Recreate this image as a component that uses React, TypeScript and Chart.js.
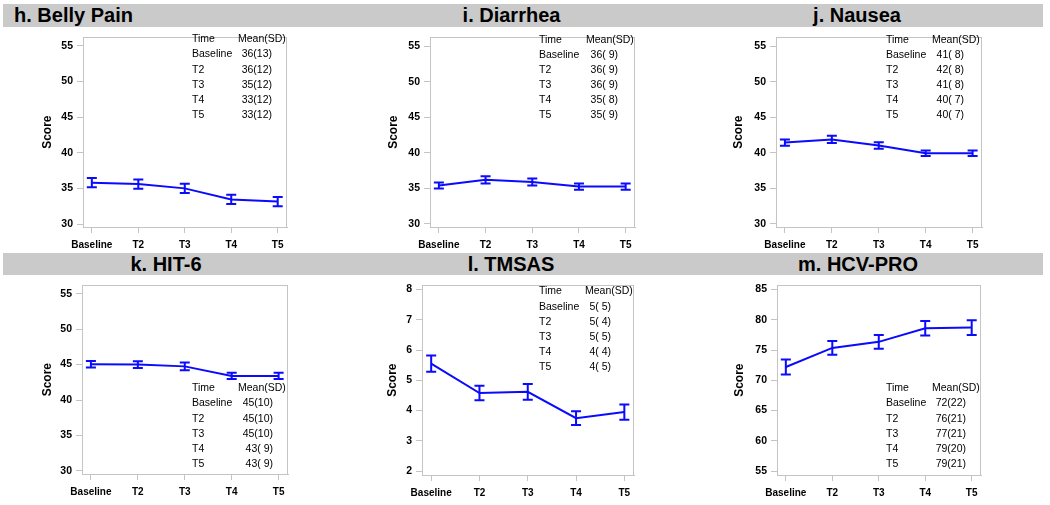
import React, { useEffect, useRef } from "react";
import { Chart, registerables } from "chart.js";

Chart.register(...registerables);

// ---------- data ----------
const categories = ["Baseline", "T2", "T3", "T4", "T5"];

const bellyMeans = [35.8, 35.6, 35.0, 33.45, 33.15];
const bellyErrs = [0.65, 0.65, 0.65, 0.65, 0.65];
const bellyTableMean = [36, 36, 35, 33, 33];
const bellyTableSD = [13, 12, 12, 12, 12];

const diarrheaMeans = [35.4, 36.2, 35.9, 35.25, 35.25];
const diarrheaErrs = [0.42, 0.5, 0.5, 0.45, 0.45];
const diarrheaTableMean = [36, 36, 36, 35, 35];
const diarrheaTableSD = [9, 9, 9, 8, 9];

const nauseaMeans = [41.45, 41.9, 41.05, 39.95, 39.95];
const nauseaErrs = [0.45, 0.5, 0.45, 0.4, 0.4];
const nauseaTableMean = [41, 42, 41, 40, 40];
const nauseaTableSD = [8, 8, 8, 7, 7];

const hitMeans = [45.05, 45.0, 44.75, 43.4, 43.4];
const hitErrs = [0.45, 0.48, 0.55, 0.45, 0.45];
const hitTableMean = [45, 45, 45, 43, 43];
const hitTableSD = [10, 10, 10, 9, 9];

const tmsasMeans = [5.55, 4.58, 4.62, 3.75, 3.95];
const tmsasErrs = [0.27, 0.24, 0.26, 0.23, 0.25];
const tmsasTableMean = [5, 5, 5, 4, 4];
const tmsasTableSD = [5, 4, 5, 4, 5];

const hcvMeans = [72.2, 75.35, 76.35, 78.6, 78.7];
const hcvErrs = [1.25, 1.15, 1.15, 1.2, 1.2];
const hcvTableMean = [72, 76, 77, 79, 79];
const hcvTableSD = [22, 21, 21, 20, 21];

const scoreTicks = [30, 35, 40, 45, 50, 55];
const tmsasTicks = [2, 3, 4, 5, 6, 7, 8];
const hcvTicks = [55, 60, 65, 70, 75, 80, 85];

const titles = ["h. Belly Pain", "i. Diarrhea", "j. Nausea", "k. HIT-6", "l. TMSAS", "m. HCV-PRO"];
const yAxisTitle = "Score";
const tableHeaders = ["Time", "Mean(SD)"];

// ---------- layout / style ----------
const FONT = '"Liberation Sans", Arial, sans-serif';
const BLUE = "#0a0aff";
const GRAY = "#c4c4c4";

type Panel = {
  title: string;
  means: number[];
  errs: number[];
  tMean: number[];
  tSD: number[];
  ticks: number[];
  yMin: number;
  yMax: number;
  canvas: { x: number; y: number; w: number; h: number };
  plot: { l: number; t: number; r: number; b: number };
  titleX: number;
  table: { col1: number; col2: number; valRight: number; y0: number; dy: number };
  heading: { left?: number; center?: number };
};

const panels: Panel[] = [
  {
    title: titles[0], means: bellyMeans, errs: bellyErrs, tMean: bellyTableMean, tSD: bellyTableSD,
    ticks: scoreTicks, yMin: 29.58, yMax: 56.2,
    canvas: { x: 0, y: 27, w: 350, h: 226 }, plot: { l: 83, t: 29, r: 287, b: 227 }, titleX: 47,
    table: { col1: 192, col2: 238, valRight: 272, y0: 39.5, dy: 15.1 }, heading: { left: 14 },
  },
  {
    title: titles[1], means: diarrheaMeans, errs: diarrheaErrs, tMean: diarrheaTableMean, tSD: diarrheaTableSD,
    ticks: scoreTicks, yMin: 29.55, yMax: 56.3,
    canvas: { x: 350, y: 27, w: 350, h: 226 }, plot: { l: 430, t: 29, r: 635, b: 227 }, titleX: 393,
    table: { col1: 539, col2: 586, valRight: 618, y0: 40, dy: 15.1 }, heading: { center: 511.5 },
  },
  {
    title: titles[2], means: nauseaMeans, errs: nauseaErrs, tMean: nauseaTableMean, tSD: nauseaTableSD,
    ticks: scoreTicks, yMin: 29.55, yMax: 56.3,
    canvas: { x: 700, y: 27, w: 350, h: 226 }, plot: { l: 776, t: 29, r: 982, b: 227 }, titleX: 738,
    table: { col1: 886, col2: 932, valRight: 964, y0: 40, dy: 15.1 }, heading: { center: 857 },
  },
  {
    title: titles[3], means: hitMeans, errs: hitErrs, tMean: hitTableMean, tSD: hitTableSD,
    ticks: scoreTicks, yMin: 29.55, yMax: 56.2,
    canvas: { x: 0, y: 275, w: 350, h: 230 }, plot: { l: 82, t: 277, r: 288, b: 474 }, titleX: 47,
    table: { col1: 192, col2: 238, valRight: 273, y0: 388.5, dy: 15.1 }, heading: { center: 166 },
  },
  {
    title: titles[4], means: tmsasMeans, errs: tmsasErrs, tMean: tmsasTableMean, tSD: tmsasTableSD,
    ticks: tmsasTicks, yMin: 1.87, yMax: 8.14,
    canvas: { x: 350, y: 275, w: 350, h: 230 }, plot: { l: 422, t: 279, r: 634, b: 475 }, titleX: 392,
    table: { col1: 539, col2: 585, valRight: 611, y0: 291.5, dy: 15.2 }, heading: { center: 511 },
  },
  {
    title: titles[5], means: hcvMeans, errs: hcvErrs, tMean: hcvTableMean, tSD: hcvTableSD,
    ticks: hcvTicks, yMin: 54.36, yMax: 85.69,
    canvas: { x: 700, y: 275, w: 350, h: 230 }, plot: { l: 777, t: 279, r: 981, b: 475 }, titleX: 739,
    table: { col1: 886, col2: 932, valRight: 966, y0: 388.5, dy: 15.1 }, heading: { center: 858 },
  },
];

const fmtSD = (sd: number) => (sd < 10 ? " " + sd : String(sd));

function PanelChart({ p }: { p: Panel }) {
  const ref = useRef<HTMLCanvasElement>(null);
  useEffect(() => {
    const c = p.canvas;
    const errorBars = {
      id: "errorBars",
      afterDatasetsDraw(chart: any) {
        const { ctx } = chart;
        const xs = chart.scales.x;
        const ys = chart.scales.y;
        ctx.save();
        ctx.strokeStyle = BLUE;
        ctx.lineWidth = 2;
        p.means.forEach((m, i) => {
          const x = xs.getPixelForValue(i);
          const yt = ys.getPixelForValue(m + p.errs[i]);
          const yb = ys.getPixelForValue(m - p.errs[i]);
          ctx.beginPath();
          ctx.moveTo(x, yt);
          ctx.lineTo(x, yb);
          ctx.moveTo(x - 5, yt);
          ctx.lineTo(x + 5, yt);
          ctx.moveTo(x - 5, yb);
          ctx.lineTo(x + 5, yb);
          ctx.stroke();
        });
        ctx.restore();
      },
    };
    const frame = {
      id: "frame",
      afterDraw(chart: any) {
        const { ctx, chartArea: a } = chart;
        ctx.save();
        ctx.strokeStyle = GRAY;
        ctx.lineWidth = 1;
        ctx.strokeRect(Math.round(a.left) + 0.5, Math.round(a.top) + 0.5, Math.round(a.right - a.left) - 1, Math.round(a.bottom - a.top));
        // table
        const t = p.table;
        ctx.fillStyle = "#000";
        ctx.font = `10.5px ${FONT}`;
        ctx.textBaseline = "middle";
        ctx.textAlign = "left";
        ctx.fillText(tableHeaders[0], t.col1 - c.x, t.y0 - c.y);
        ctx.fillText(tableHeaders[1], t.col2 - c.x, t.y0 - c.y);
        categories.forEach((cat, i) => {
          const y = t.y0 + t.dy * (i + 1) - c.y;
          ctx.textAlign = "left";
          ctx.fillText(cat, t.col1 - c.x, y);
          ctx.textAlign = "right";
          ctx.fillText(`${p.tMean[i]}(${fmtSD(p.tSD[i])})`, t.valRight - c.x, y);
        });
        ctx.restore();
      },
    };
    const chart = new Chart(ref.current!, {
      type: "line",
      data: {
        datasets: [
          {
            data: p.means.map((m, i) => ({ x: i, y: m })),
            borderColor: BLUE,
            borderWidth: 2,
            pointRadius: 0,
            tension: 0,
            fill: false,
          },
        ],
      },
      options: {
        responsive: false,
        animation: false,
        events: [],
        layout: {
          padding: { left: 0, top: p.plot.t - c.y, right: c.x + c.w - p.plot.r, bottom: 0 },
        },
        plugins: { legend: { display: false }, tooltip: { enabled: false }, title: { display: false } },
        scales: {
          x: {
            type: "linear",
            min: -0.19,
            max: 4.2,
            afterBuildTicks: (s: any) => {
              s.ticks = categories.map((_, i) => ({ value: i }));
            },
            afterFit: (s: any) => {
              s.height = c.y + c.h - p.plot.b;
            },
            grid: { display: true, drawOnChartArea: false, drawTicks: true, tickLength: 6, color: GRAY },
            border: { display: true, color: GRAY },
            ticks: {
              autoSkip: false,
              maxRotation: 0,
              padding: 6,
              color: "#000",
              font: { family: FONT, size: 10, weight: "bold" },
              callback: (v: any) => categories[v] ?? "",
            },
          },
          y: {
            type: "linear",
            min: p.yMin,
            max: p.yMax,
            afterBuildTicks: (s: any) => {
              s.ticks = p.ticks.map((v) => ({ value: v }));
            },
            afterFit: (s: any) => {
              s.width = p.plot.l - c.x;
            },
            grid: { display: true, drawOnChartArea: false, drawTicks: true, tickLength: 6, color: GRAY },
            border: { display: true, color: GRAY },
            ticks: {
              padding: 4,
              color: "#000",
              font: { family: FONT, size: 10.5, weight: "bold" },
            },
            title: {
              display: true,
              text: yAxisTitle,
              color: "#000",
              font: { family: FONT, size: 12, weight: "bold" },
              padding: { top: p.titleX - c.x - 7, bottom: 0 },
            },
          },
        },
      },
      plugins: [errorBars, frame],
    } as any);
    return () => chart.destroy();
  }, [p]);
  return (
    <canvas
      ref={ref}
      width={p.canvas.w}
      height={p.canvas.h}
      style={{ position: "absolute", left: p.canvas.x, top: p.canvas.y, width: p.canvas.w, height: p.canvas.h }}
    />
  );
}

export default function App() {
  const bars = [
    { top: 4, height: 23 },
    { top: 253, height: 22 },
  ];
  return (
    <div style={{ position: "absolute", left: 0, top: 0, width: 1050, height: 505, background: "#fff", overflow: "hidden" }}>
      {bars.map((b, i) => (
        <div key={i} style={{ position: "absolute", left: 3, top: b.top, width: 1040, height: b.height, background: "#cacaca" }} />
      ))}
      {panels.map((p, i) => {
        const bar = bars[i < 3 ? 0 : 1];
        const style: React.CSSProperties = {
          position: "absolute",
          top: bar.top,
          height: bar.height,
          lineHeight: bar.height + "px",
          fontFamily: FONT,
          fontWeight: "bold",
          fontSize: 20,
          color: "#000",
          whiteSpace: "nowrap",
        };
        if (p.heading.left !== undefined) {
          style.left = p.heading.left;
        } else {
          style.left = (p.heading.center as number) - 150;
          style.width = 300;
          style.textAlign = "center";
        }
        return (
          <div key={"t" + i} style={style}>
            {p.title}
          </div>
        );
      })}
      {panels.map((p, i) => (
        <PanelChart key={i} p={p} />
      ))}
    </div>
  );
}
